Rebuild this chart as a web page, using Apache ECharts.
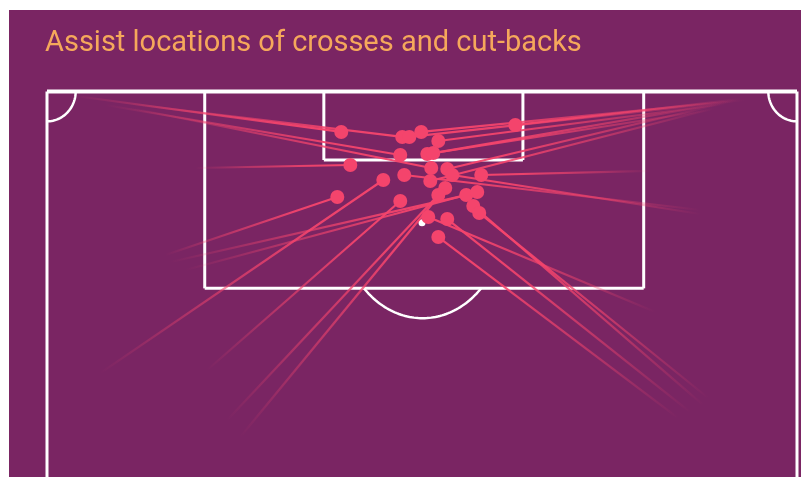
<!DOCTYPE html>
<html><head><meta charset="utf-8">
<script src="https://cdn.jsdelivr.net/npm/echarts@6/dist/echarts.min.js"></script>
<style>html,body{margin:0;padding:0;background:#fff;}#c{width:801px;height:477px;}</style>
</head><body><div id="c"></div>
<script>
// ---- text ----
const titleText = 'Assist locations of crosses and cut-backs';

// ---- assists (metres: x across the pitch from left touchline, y out from goal line) ----
const startX = [2.57, 7.55, 62.40, 63.31, 61.50, 62.86, 5.29, 60.14, 61.95, 13.45, 7.55, 61.04, 59.23, 54.70,
                59.23, 4.83, 60.59, 17.52, 16.35, 11.18, 12.54, 10.73, 14.53, 59.50, 59.95, 55.15, 58.32, 57.23];
const startY = [0.38, 1.05, 0.80, 0.71, 1.05, 0.63, 1.13, 1.55, 0.88, 6.41, 1.38, 1.05, 10.27, 6.66,
                9.93, 23.60, 1.38, 28.96, 27.54, 14.29, 14.96, 13.70, 23.34, 26.28, 25.69, 18.48, 26.87, 27.37];
const endX   = [26.68, 32.21, 32.85, 33.93, 35.48, 42.46, 32.03, 34.48, 35.02, 27.50, 34.84, 36.29, 36.75, 39.37,
                32.39, 30.49, 34.75, 36.11, 35.48, 38.01, 39.01, 26.32, 32.03, 38.65, 39.19, 34.57, 36.29, 35.48];
const endY   = [3.39, 3.81, 3.81, 3.39, 4.15, 2.81, 5.32, 5.24, 5.16, 6.16, 6.41, 6.50, 7.00, 7.00,
                7.00, 7.42, 7.50, 8.09, 8.68, 8.68, 8.42, 8.84, 9.18, 9.60, 10.18, 10.52, 10.69, 12.20];

// ---- pitch markings (metres) ----
const pitchWidth = 68;
const viewDepth = 32.31;
const penaltyBoxX = [14.3, 54.1];
const penaltyBoxDepth = 16.5;
const sixYardX = [25.1, 43.15];
const sixYardDepth = 5.74;
const penaltySpot = [34.0, 11.0];
const arcCentre = [34.05, 11.0];
const arcRadius = [7.3, 8.0];
const cornerRadius = [2.6, 2.5];

const PURPLE = '#7a2563';
const PINK = '#f4446c';

const chart = echarts.init(document.getElementById('c'), null, {renderer: 'canvas'});

function pitchRender(params, api) {
  const c = p => api.coord(p);
  const white = {stroke: '#ffffff', fill: null, lineWidth: 3};
  const kids = [];
  const line = (a, b, w) => {
    const p = c(a), q = c(b);
    kids.push({type: 'line', shape: {x1: p[0], y1: p[1], x2: q[0], y2: q[1]}, style: Object.assign({}, white, {lineWidth: w || 3})});
  };
  line([0, 0], [0, viewDepth]);
  line([pitchWidth, 0], [pitchWidth, viewDepth]);
  line([0, 0], [pitchWidth, 0], 4);
  line([penaltyBoxX[0], 0], [penaltyBoxX[0], penaltyBoxDepth]);
  line([penaltyBoxX[1], 0], [penaltyBoxX[1], penaltyBoxDepth]);
  line([penaltyBoxX[0], penaltyBoxDepth], [penaltyBoxX[1], penaltyBoxDepth]);
  line([sixYardX[0], 0], [sixYardX[0], sixYardDepth]);
  line([sixYardX[1], 0], [sixYardX[1], sixYardDepth]);
  line([sixYardX[0], sixYardDepth], [sixYardX[1], sixYardDepth]);
  const t0 = Math.asin((penaltyBoxDepth - arcCentre[1]) / arcRadius[1]);
  const arcPts = [];
  for (let i = 0; i <= 60; i++) {
    const t = t0 + (Math.PI - 2 * t0) * i / 60;
    arcPts.push(c([arcCentre[0] + arcRadius[0] * Math.cos(t), arcCentre[1] + arcRadius[1] * Math.sin(t)]));
  }
  kids.push({type: 'polyline', shape: {points: arcPts}, style: {stroke: '#fff', fill: null, lineWidth: 2.5}});
  const cl = [], cr = [];
  for (let i = 0; i <= 30; i++) {
    const t = (Math.PI / 2) * i / 30;
    cl.push(c([cornerRadius[0] * Math.cos(t), cornerRadius[1] * Math.sin(t)]));
    cr.push(c([pitchWidth - cornerRadius[0] * Math.cos(t), cornerRadius[1] * Math.sin(t)]));
  }
  kids.push({type: 'polyline', shape: {points: cl}, style: {stroke: '#fff', fill: null, lineWidth: 2.5}});
  kids.push({type: 'polyline', shape: {points: cr}, style: {stroke: '#fff', fill: null, lineWidth: 2.5}});
  const s = c(penaltySpot);
  kids.push({type: 'circle', shape: {cx: s[0], cy: s[1], r: 3.5}, style: {fill: '#fff'}});
  return {type: 'group', children: kids};
}

function assistRender(params, api) {
  const p = api.coord([api.value(0), api.value(1)]);
  const q = api.coord([api.value(2), api.value(3)]);
  const grad = new echarts.graphic.LinearGradient(p[0], p[1], q[0], q[1], [
    {offset: 0, color: 'rgba(244,68,108,0)'},
    {offset: 0.4, color: 'rgba(244,68,108,0.55)'},
    {offset: 0.75, color: 'rgba(244,68,108,0.92)'},
    {offset: 1, color: 'rgba(244,68,108,1)'}
  ], true);
  return {type: 'line', shape: {x1: p[0], y1: p[1], x2: q[0], y2: q[1]}, style: {stroke: grad, lineWidth: 2.2}};
}

const assistData = startX.map((v, i) => [v, startY[i], endX[i], endY[i]]);
const endData = endX.map((v, i) => [v, endY[i]]);

chart.setOption({
  animation: false,
  backgroundColor: '#ffffff',
  graphic: [
    {type: 'rect', left: 9, top: 10, shape: {width: 792, height: 467}, style: {fill: PURPLE}, z: -10},
    {type: 'text', left: 45, top: 29, style: {text: titleText, fill: '#f5a85b', font: '400 29px Roboto'}, z: 10}
  ],
  grid: {left: 47, right: 4, top: 91.5, bottom: 0},
  xAxis: {type: 'value', min: 0, max: pitchWidth, show: false},
  yAxis: {type: 'value', min: 0, max: viewDepth, inverse: true, show: false},
  series: [
    {type: 'custom', renderItem: pitchRender, data: [[0, 0]], z: 1, silent: true, clip: false},
    {type: 'custom', renderItem: assistRender, data: assistData, encode: {x: [0, 2], y: [1, 3]}, z: 2, silent: true},
    {type: 'scatter', data: endData, symbolSize: 14, itemStyle: {color: PINK, opacity: 1}, z: 3, silent: true}
  ]
});
</script></body></html>
